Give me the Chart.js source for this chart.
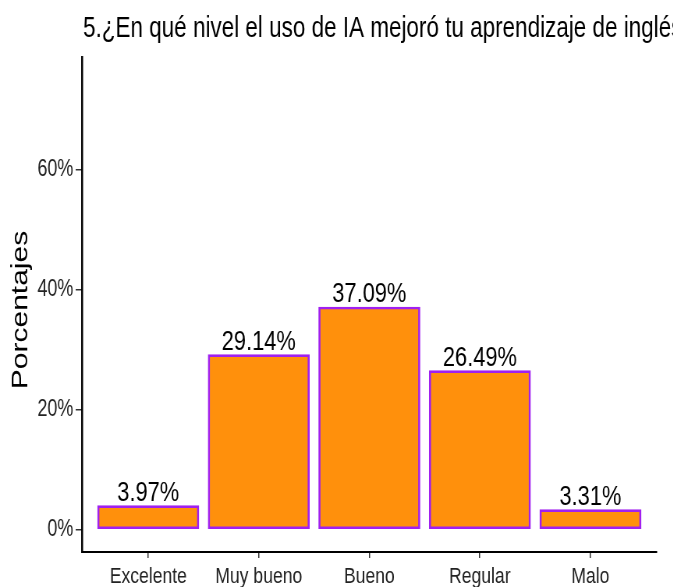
<!DOCTYPE html>
<html>
<head>
<meta charset="utf-8">
<script src="https://cdn.jsdelivr.net/npm/chart.js@4/dist/chart.umd.min.js"></script>
<style>
  html, body { margin: 0; padding: 0; background: #fff; overflow: hidden; }
  #outer { width: 673px; height: 587px; overflow: hidden; }
  /* the reference image is horizontally compressed; reproduce that */
  #wrap { width: 863px; height: 587px; transform: scaleX(0.78); transform-origin: 0 0; }
</style>
</head>
<body>
<div id="outer"><div id="wrap"><canvas id="c" width="863" height="587"></canvas></div></div>
<script>
const titleText = "5.¿En qué nivel el uso de IA mejoró tu aprendizaje de inglés";
const yAxisTitle = "Porcentajes";
const categories = ["Excelente", "Muy bueno", "Bueno", "Regular", "Malo"];
const percentages = [3.97, 29.14, 37.09, 26.49, 3.31];
const percentLabels = ["3.97%", "29.14%", "37.09%", "26.49%", "3.31%"];
const yTicks = [0, 20, 40, 60];

const FONT = "'Liberation Sans', Arial, Helvetica, sans-serif";

const points = categories.map((c, i) => ({ x: i + 1, y: percentages[i] }));

const textPlugin = {
  id: 'textDraw',
  afterDraw(chart) {
    const ctx = chart.ctx;
    ctx.save();
    ctx.font = "28.8px " + FONT;
    ctx.fillStyle = "#000";
    ctx.textAlign = "left";
    ctx.textBaseline = "alphabetic";
    ctx.fillText(titleText, 106.5, 36.5);
    ctx.translate(34.5, 310);
    ctx.rotate(-Math.PI / 2);
    ctx.font = "30px " + FONT;
    ctx.textAlign = "center";
    ctx.fillText(yAxisTitle, 0, 0);
    ctx.restore();
  }
};

const labelPlugin = {
  id: 'barLabels',
  afterDatasetsDraw(chart) {
    const ctx = chart.ctx;
    const meta = chart.getDatasetMeta(0);
    ctx.save();
    ctx.font = "28px " + FONT;
    ctx.fillStyle = "#000";
    ctx.textAlign = "center";
    ctx.textBaseline = "alphabetic";
    meta.data.forEach((bar, i) => {
      ctx.fillText(percentLabels[i], bar.x, bar.y - 5);
    });
    ctx.restore();
  }
};

new Chart(document.getElementById('c'), {
  type: 'bar',
  data: {
    datasets: [{
      data: points,
      backgroundColor: '#FF900C',
      borderColor: '#A020F0',
      borderWidth: 2.7,
      borderSkipped: false,
      barThickness: 130
    }]
  },
  options: {
    responsive: false,
    animation: false,
    devicePixelRatio: 1,
    layout: { padding: { top: 57, right: 21, left: 0, bottom: 0 } },
    plugins: {
      legend: { display: false },
      tooltip: { enabled: false },
      title: { display: false }
    },
    scales: {
      x: {
        type: 'linear',
        offset: false,
        min: 0.4,
        max: 5.6,
        afterBuildTicks(scale) { scale.ticks = categories.map((c, i) => ({ value: i + 1 })); },
        afterFit(scale) { scale.height = 35; },
        ticks: {
          autoSkip: false,
          maxRotation: 0,
          padding: 5,
          color: '#222',
          font: { family: FONT, size: 22.5 },
          callback: (v) => categories[Math.round(v) - 1]
        },
        grid: { offset: false, drawOnChartArea: false, drawTicks: true, tickLength: 6, color: '#333', lineWidth: 1.5 },
        border: { display: true, color: '#000', width: 2 }
      },
      y: {
        type: 'linear',
        min: -3.75,
        max: 78.75,
        afterBuildTicks(scale) { scale.ticks = yTicks.map(v => ({ value: v })); },
        afterFit(scale) { scale.width = 105; },
        ticks: {
          padding: 3,
          color: '#222',
          font: { family: FONT, size: 23 },
          callback: (v) => v + '%'
        },
        grid: { drawOnChartArea: false, drawTicks: true, tickLength: 8, color: '#333', lineWidth: 1.5 },
        border: { display: true, color: '#000', width: 2.5 }
      }
    }
  },
  plugins: [textPlugin, labelPlugin]
});
</script>
</body>
</html>
